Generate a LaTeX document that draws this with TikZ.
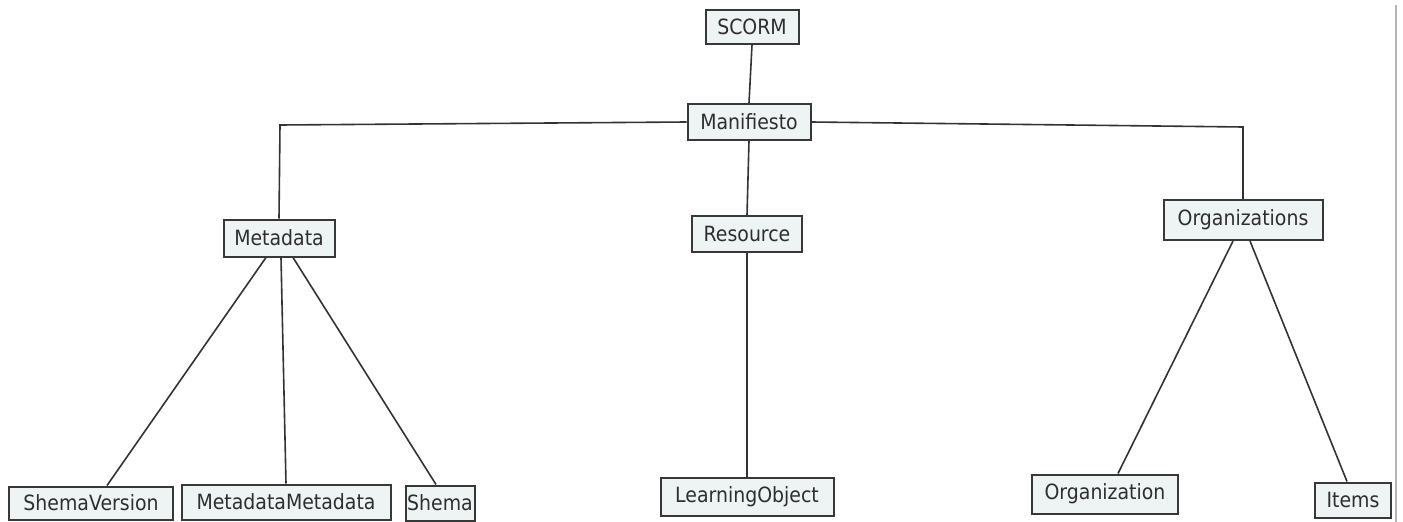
\documentclass[tikz,border=0pt]{standalone}
\usepackage{fontspec}
\setmainfont{DejaVu Sans}
\newfontfamily\boxfont[FakeStretch=0.9]{DejaVu Sans}
\begin{document}
\begin{tikzpicture}[x=1pt,y=-1pt,
  box/.style={draw=black!78,line width=2pt,fill=boxfill,inner sep=0pt,
    font=\boxfont\fontsize{21}{23}\selectfont,text=black!82},
  link/.style={draw=black!80,line width=1.6pt}]
\definecolor{boxfill}{HTML}{EEF3F3}
\useasboundingbox (0,0) rectangle (1403,522);
% right-hand frame line
\draw[black!30,line width=1.5pt] (1396,5) -- (1396,522);
% nodes
\node[box,minimum width=93pt,minimum height=34pt] (scorm) at (752,27) {SCORM};
\node[box,minimum width=123pt,minimum height=36pt] (manif) at (749,122) {Manifiesto};
\node[box,minimum width=111pt,minimum height=37pt] (meta) at (279,238) {Metadata};
\node[box,minimum width=110pt,minimum height=36pt] (res) at (747,234) {Resource};
\node[box,minimum width=159pt,minimum height=40pt] (orgs) at (1243,220) {Organizations};
\node[box,minimum width=164pt,minimum height=33pt] (sver) at (91,503) {ShemaVersion};
\node[box,minimum width=209pt,minimum height=35pt] (mm) at (286,502) {MetadataMetadata};
\node[box,minimum width=69pt,minimum height=35pt] (shema) at (440,503) {Shema};
\node[box,minimum width=173pt,minimum height=38pt] (lo) at (747,497) {LearningObject};
\node[box,minimum width=146pt,minimum height=39pt] (org) at (1105,494) {Organization};
\node[box,minimum width=76pt,minimum height=35pt] (items) at (1353,500) {Items};
% connectors
\draw[link] (scorm.south) -- (manif.north);
\draw[link] (manif.west) -- (280,125) -- (meta.north);
\draw[link] (manif.east) -- (1243,127) -- (orgs.north);
\draw[link] (manif.south) -- (res.north);
\draw[link] ([xshift=-13pt]meta.south) -- ([xshift=16pt]sver.north);
\draw[link] ([xshift=2pt]meta.south) -- (mm.north);
\draw[link] ([xshift=14pt]meta.south) -- ([xshift=-4pt]shema.north);
\draw[link] (res.south) -- (lo.north);
\draw[link] ([xshift=-10pt]orgs.south) -- ([xshift=13pt]org.north);
\draw[link] ([xshift=7pt]orgs.south) -- ([xshift=-6pt]items.north);
\end{tikzpicture}
\end{document}
